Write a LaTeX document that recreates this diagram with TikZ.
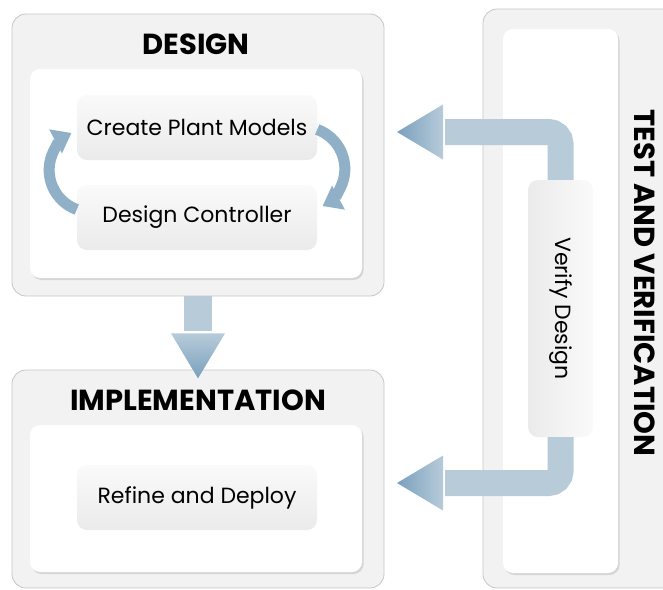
\documentclass[tikz,border=0pt]{standalone}
\usepackage{fontspec}
\setmainfont{Poppins}
\usetikzlibrary{arrows.meta,shadows,calc}

\definecolor{flowblue}{RGB}{183,203,217}
\definecolor{tipblue}{RGB}{122,160,189}
\definecolor{loopblue}{RGB}{143,176,198}

\tikzset{
  stage/.style={draw=gray!45, fill=gray!10, rounded corners=14pt, line width=0.8pt},
  panel/.style={fill=white, rounded corners=10pt,
    drop shadow={shadow xshift=1.5pt, shadow yshift=-2pt, opacity=0.25}},
  stepbox/.style={top color=gray!4, bottom color=gray!16, rounded corners=10pt,
    minimum width=240pt, minimum height=65pt, font=\fontsize{22}{26}\selectfont},
  headline/.style={font=\fontsize{29}{34}\selectfont\bfseries},
  fatline/.style={draw=flowblue, line width=#1, rounded corners=12pt},
  cyclearrow/.style={draw=loopblue, line width=11pt, -{Triangle[length=18pt,width=26pt]}},
}

\begin{document}
\begin{tikzpicture}[x=1pt,y=1pt]
  \useasboundingbox (0,0) rectangle (663,-589);
  \clip (0,0) rectangle (663,-589);

  % design
  \node[stage, minimum width=372pt, minimum height=282pt] (des) at (198,-155) {};
  \node[headline] (desT) at (196,-44) {DESIGN};
  \node[panel, minimum width=332pt, minimum height=209pt] (desP) at (196,-173.5) {};
  \node[stepbox] (cpm) at (197,-127.5) {Create Plant Models};
  \node[stepbox] (dc) at (197,-217.5) {Design Controller};

  % implementation
  \node[stage, minimum width=372pt, minimum height=218pt] (imp) at (198,-479) {};
  \node[headline] (impT) at (198,-400) {IMPLEMENTATION};
  \node[panel, minimum width=332pt, minimum height=147pt] (impP) at (196,-498.5) {};
  \node[stepbox] (rad) at (197,-497.5) {Refine and Deploy};

  % test and verification
  \node[stage, minimum width=217pt, minimum height=579pt] (tav) at (591.5,-298.5) {};
  \node[panel, minimum width=115pt, minimum height=544pt] (tavP) at (560.5,-301) {};
  \node[headline, rotate=-90] (tavT) at (645,-283) {TEST AND VERIFICATION};
  \node[stepbox, minimum width=65pt, minimum height=257pt, left color=gray!16, right color=gray!4]
    (vd) at (560.5,-308.5) {\rotatebox{-90}{Verify Design}};

  % loops
  \draw[cyclearrow] ($(dc.west)+(0,8)$) arc[start angle=250, end angle=118, radius=42];
  \draw[cyclearrow] ($(cpm.east)+(0,-2)$) arc[start angle=70, end angle=-62, radius=42];

  % flows
  \coordinate (tipA) at (397,-132);
  \coordinate (tipB) at (397,-483);
  \coordinate (tipC) at ($(des.south)+(0,-82)$);
  \draw[fatline=26pt] (vd.north) |- ($(tipA)+(48,0)$);
  \draw[fatline=26pt] (vd.south) |- ($(tipB)+(48,0)$);
  \draw[fatline=28pt] (des.south) -- ($(tipC)+(0,47)$);
  \shade[left color=tipblue, right color=flowblue] (tipA) -- ++(46,27.5) -- ++(0,-55) -- cycle;
  \shade[left color=tipblue, right color=flowblue] (tipB) -- ++(46,27.5) -- ++(0,-55) -- cycle;
  \shade[top color=flowblue, bottom color=tipblue] (tipC) -- ++(-27,45) -- ++(54,0) -- cycle;
\end{tikzpicture}
\end{document}
